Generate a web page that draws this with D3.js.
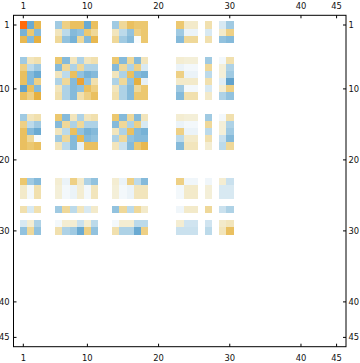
<!DOCTYPE html>
<html><head><meta charset="utf-8">
<script src="https://cdn.jsdelivr.net/npm/d3@7"></script>
<style>html,body{margin:0;padding:0;background:#fff}svg{display:block}</style>
</head><body><div id="chart"></div>
<script>
// Matrix size and ticks
const N = 45;
const tickValues = [1, 10, 20, 30, 40, 45];
// Row/column indices that carry non-zero entries
const indices = [1,2,3,6,7,8,9,10,11,14,15,16,17,18,23,24,25,27,29,30];
// Values (rows follow `indices`, columns follow `indices`)
const r1  = [1.0,-0.55,0.5, -0.35,0.35,0.45,0.45,-0.55,0.45, -0.35,0.3,0.45,0.4,0.4, 0.4,0.15,0.15, 0.25, -0.15,-0.35];
const r2  = [-0.5,0.4,-0.45, 0.2,-0.25,-0.45,-0.4,0.4,0.3, 0.2,-0.25,-0.4,0.35,0.4, -0.35,-0.08,-0.08, -0.15, 0.15,0.35];
const r3  = [0.5,-0.45,0.55, 0.3,-0.4,-0.5,0.3,-0.45,0.5, 0.3,-0.35,-0.45,-0.03,0.4, -0.45,0.3,0.3, 0.25, -0.4,-0.45];
const r6  = [-0.35,0.2,0.25, 0.4,-0.45,0.2,-0.3,0.2,0.25, 0.4,-0.45,0.3,-0.45,0.2, 0.12,0.1,0.1, -0.35, -0.05,0.25];
const r7  = [0.35,-0.25,-0.35, -0.45,0.3,-0.3,0.3,-0.3,-0.3, -0.45,0.3,-0.3,0.35,-0.15, -0.08,-0.05,-0.05, 0.3, 0.1,-0.3];
const r8  = [0.45,-0.45,-0.55, 0.2,-0.25,0.45,-0.4,-0.5,-0.45, 0.2,-0.3,0.45,-0.45,-0.5, 0.35,-0.08,-0.08, -0.25, 0.1,-0.35];
const r9  = [0.45,-0.45,0.35, -0.3,0.3,-0.45,0.65,-0.4,0.25, -0.3,0.3,-0.4,0.55,-0.1, 0.15,0.15,0.15, 0.25, -0.12,-0.6];
const r10 = [-0.6,0.45,-0.45, 0.2,-0.3,-0.45,-0.4,0.45,0.35, 0.2,-0.3,-0.45,0.3,0.4, -0.35,-0.05,-0.05, -0.15, 0.12,0.35];
const r11 = [0.45,0.35,0.55, 0.25,-0.3,-0.45,0.25,0.35,0.45, 0.25,-0.3,-0.45,0.4,0.4, -0.45,0.25,0.25, 0.15, -0.3,-0.4];
const r14 = [-0.35,0.2,0.25, 0.4,-0.45,0.2,-0.3,0.2,0.25, 0.4,-0.45,0.3,-0.45,0.2, 0.12,0.1,0.1, -0.35, -0.05,0.25];
const r15 = [0.35,-0.25,-0.35, -0.45,0.3,-0.3,0.3,-0.3,-0.3, -0.45,0.3,-0.3,0.35,-0.15, -0.08,-0.05,-0.05, 0.3, 0.1,-0.3];
const r16 = [0.45,-0.45,-0.55, 0.2,-0.25,0.45,-0.4,-0.5,-0.45, 0.2,-0.3,0.45,-0.45,-0.5, 0.35,-0.08,-0.08, -0.25, 0.1,-0.35];
const r17 = [0.45,0.3,-0.03, -0.35,0.3,-0.45,0.5,-0.45,-0.4, -0.3,0.3,-0.4,-0.45,-0.45, -0.25,0.15,0.15, 0.25, -0.2,-0.45];
const r18 = [0.45,0.4,0.45, 0.2,-0.25,-0.45,-0.1,0.45,0.45, 0.2,-0.2,-0.45,0.4,0.5, -0.45,0.2,0.2, 0.12, -0.25,0.3];
const r23 = [0.4,-0.35,-0.45, 0.12,-0.08,0.35,0.15,-0.3,-0.4, 0.12,-0.08,0.35,-0.25,-0.45, 0.35,-0.06,-0.06, -0.06, 0.12,-0.2];
const r24 = [0.15,-0.05,0.25, 0.1,-0.05,-0.08,0.12,-0.05,0.2, 0.1,-0.05,-0.08,0.2,0.2, -0.05,0.15,0.15, 0.1, -0.15,-0.15];
const r25 = [0.15,-0.05,0.25, 0.1,-0.05,-0.08,0.12,-0.05,0.2, 0.1,-0.05,-0.08,0.2,0.2, -0.05,0.15,0.15, 0.1, -0.15,-0.15];
const r27 = [0.25,-0.15,0.25, -0.35,0.3,-0.25,0.2,-0.15,0.15, -0.4,0.3,-0.25,0.3,0.15, -0.06,0.15,0.15, 0.3, -0.2,-0.3];
const r29 = [-0.15,0.12,-0.3, -0.05,0.12,0.12,-0.2,0.12,-0.25, -0.05,0.12,0.12,-0.25,-0.25, 0.12,-0.18,-0.18, -0.18, 0.15,0.2];
const r30 = [-0.4,0.3,-0.4, 0.25,-0.3,-0.35,-0.55,0.35,-0.4, 0.25,-0.3,-0.3,-0.55,0.35, -0.2,-0.2,-0.2, -0.25, 0.2,0.45];
const rows = [r1,r2,r3,r6,r7,r8,r9,r10,r11,r14,r15,r16,r17,r18,r23,r24,r25,r27,r29,r30];

const cells = [];
rows.forEach((row, i) => row.forEach((v, j) => cells.push({r: indices[i], c: indices[j], v})));

const W = 360, H = 363;
const x = d3.scaleLinear().domain([0.5, N + 0.5]).range([19.74, 340.14]);
const y = d3.scaleLinear().domain([0.5, N + 0.5]).range([21.45, 340.95]);
const color = d3.scaleLinear()
  .domain([-1, -0.55, -0.4, -0.25, -0.1, 0, 0.1, 0.25, 0.4, 0.55, 0.8, 1])
  .range(['#1f5f9f','#6aaad2','#92c2de','#bcdaea','#e6f0f6','#ffffff','#f4efd8','#f1e0ae','#ecc870','#e6b040','#f08c28','#ff6a0a'])
  .interpolate(d3.interpolateRgb);

const svg = d3.select('#chart').append('svg').attr('width', W).attr('height', H);

svg.append('g').selectAll('rect').data(cells).join('rect')
  .attr('x', d => x(d.c - 0.5))
  .attr('y', d => y(d.r - 0.5))
  .attr('width', d => x(d.c + 0.5) - x(d.c - 0.5) + 0.3)
  .attr('height', d => y(d.r + 0.5) - y(d.r - 0.5) + 0.3)
  .attr('fill', d => color(d.v))
  .attr('shape-rendering', 'crispEdges');

const L = 13.5, R = 346, T = 15.3, B = 346.7;
svg.append('rect').attr('x', L).attr('y', T).attr('width', R - L).attr('height', B - T)
  .attr('fill', 'none').attr('stroke', '#000').attr('stroke-width', 1);

const font = 'DejaVu Sans, sans-serif';
const fs = '8.4px';
const tl = 3;
const g = svg.append('g').attr('stroke', '#000').attr('stroke-width', 1);
tickValues.forEach(t => {
  g.append('line').attr('x1', x(t)).attr('x2', x(t)).attr('y1', T).attr('y2', T + tl);
  g.append('line').attr('x1', x(t)).attr('x2', x(t)).attr('y1', B).attr('y2', B - tl);
  g.append('line').attr('y1', y(t)).attr('y2', y(t)).attr('x1', L).attr('x2', L + tl);
  g.append('line').attr('y1', y(t)).attr('y2', y(t)).attr('x1', R).attr('x2', R - tl);
});
const txt = svg.append('g').attr('font-family', font).attr('font-size', fs).attr('fill', '#111');
tickValues.forEach(t => {
  txt.append('text').attr('x', x(t)).attr('y', 8.8).attr('text-anchor', 'middle').text(t);
  txt.append('text').attr('x', x(t)).attr('y', 361).attr('text-anchor', 'middle').text(t);
  txt.append('text').attr('x', 9.6).attr('y', y(t) + 3).attr('text-anchor', 'end').text(t);
  txt.append('text').attr('x', 348.5).attr('y', y(t) + 3).attr('text-anchor', 'start').text(t);
});
</script></body></html>
